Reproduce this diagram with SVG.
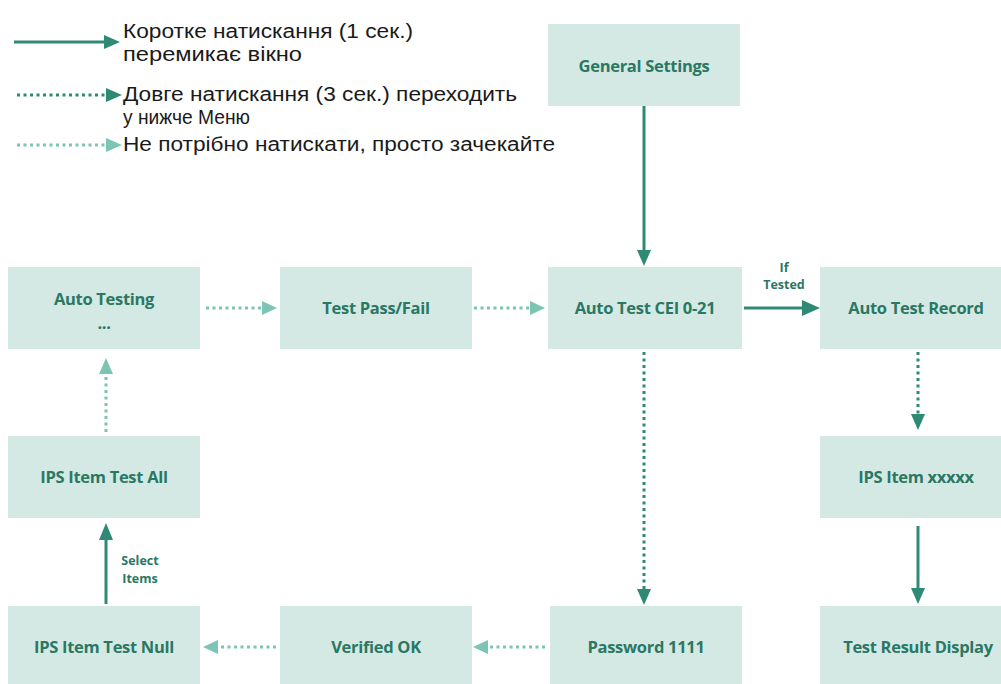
<svg xmlns="http://www.w3.org/2000/svg" width="1001" height="684" viewBox="0 0 1001 684">
<defs>
<style>
.box{fill:#d4e9e3}
.bt{font-family:"Open Sans","Noto Sans",sans-serif;font-weight:700;font-size:16.5px;fill:#2a7864;text-anchor:middle;letter-spacing:-0.3px}
.lbl{font-family:"Open Sans","Noto Sans",sans-serif;font-weight:700;font-size:12.5px;fill:#2a7864;text-anchor:middle}
.leg{font-family:"Liberation Sans",Arial,sans-serif;font-size:20px;fill:#1a1a1a}
.solid{stroke:#2e8a74;stroke-width:3;fill:none}
.dotd{stroke:#2e8a74;stroke-width:3;fill:none;stroke-dasharray:3 3.5}
.dotl{stroke:#7cc4b3;stroke-width:3;fill:none;stroke-dasharray:3 3.5}
.hd{fill:#2e8a74}
.hl{fill:#7cc4b3}
</style>
</defs>

<g id="legend">
<line class="solid" x1="14" y1="42" x2="106" y2="42"/>
<polygon class="hd" points="104,35 120,42 104,49"/>
<text class="leg" x="123" y="38" textLength="290" lengthAdjust="spacingAndGlyphs">Коротке натискання (1 сек.)</text>
<text class="leg" x="123" y="61" textLength="179" lengthAdjust="spacingAndGlyphs">перемикає вікно</text>
<line class="dotd" x1="17" y1="95" x2="106" y2="95"/>
<polygon class="hd" points="106,88 122,95 106,102"/>
<text class="leg" x="123" y="101" textLength="394" lengthAdjust="spacingAndGlyphs">Довге натискання (3 сек.) переходить</text>
<text class="leg" x="123" y="124" textLength="127" lengthAdjust="spacingAndGlyphs">у нижче Меню</text>
<line class="dotl" x1="17" y1="145" x2="106" y2="145"/>
<polygon class="hl" points="106,138 122,145 106,152"/>
<text class="leg" x="123" y="151" textLength="432" lengthAdjust="spacingAndGlyphs">Не потрібно натискати, просто зачекайте</text>
</g>

<g id="general-settings"><rect class="box" x="548" y="24" width="192" height="82"/><text class="bt" x="644" y="72">General Settings</text></g>
<g id="auto-testing"><rect class="box" x="8" y="267" width="192" height="82"/><text class="bt" x="104" y="305">Auto Testing</text><text class="bt" x="104" y="329">...</text></g>
<g id="test-pass-fail"><rect class="box" x="280" y="267" width="192" height="82"/><text class="bt" x="376" y="314">Test Pass/Fail</text></g>
<g id="auto-test-cei"><rect class="box" x="548" y="267" width="194" height="82"/><text class="bt" x="645" y="314">Auto Test CEI 0-21</text></g>
<g id="auto-test-record"><rect class="box" x="820" y="267" width="192" height="82"/><text class="bt" x="916" y="314">Auto Test Record</text></g>
<g id="ips-item-test-all"><rect class="box" x="8" y="436" width="192" height="82"/><text class="bt" x="104" y="483">IPS Item Test All</text></g>
<g id="ips-item-xxxxx"><rect class="box" x="820" y="436" width="192" height="82"/><text class="bt" x="916" y="483">IPS Item xxxxx</text></g>
<g id="ips-item-test-null"><rect class="box" x="8" y="606" width="192" height="82"/><text class="bt" x="104" y="653">IPS Item Test Null</text></g>
<g id="verified-ok"><rect class="box" x="280" y="606" width="192" height="82"/><text class="bt" x="376" y="653">Verified OK</text></g>
<g id="password"><rect class="box" x="550" y="606" width="192" height="82"/><text class="bt" x="646" y="653">Password 1111</text></g>
<g id="test-result-display"><rect class="box" x="820" y="606" width="192" height="82"/><text class="bt" x="918" y="653">Test Result Display</text></g>

<g id="connectors">
<line class="solid" x1="644" y1="106" x2="644" y2="252"/>
<polygon class="hd" points="637,250 651,250 644,266"/>
<line class="dotl" x1="206" y1="308" x2="262" y2="308"/>
<polygon class="hl" points="262,301 277,308 262,315"/>
<line class="dotl" x1="474" y1="308" x2="530" y2="308"/>
<polygon class="hl" points="530,301 545,308 530,315"/>
<line class="solid" x1="744" y1="308" x2="804" y2="308"/>
<polygon class="hd" points="802,300 820,308 802,316"/>
<text class="lbl" x="784" y="272">If</text>
<text class="lbl" x="784" y="289">Tested</text>
<line class="dotd" x1="644" y1="352" x2="644" y2="590"/>
<polygon class="hd" points="637,589 651,589 644,605"/>
<line class="dotd" x1="918" y1="352" x2="918" y2="414"/>
<polygon class="hd" points="911,414 925,414 918,430"/>
<line class="solid" x1="918" y1="526" x2="918" y2="590"/>
<polygon class="hd" points="911,588 925,588 918,604"/>
<line class="dotl" x1="545" y1="647" x2="488" y2="647"/>
<polygon class="hl" points="488,640 473,647 488,654"/>
<line class="dotl" x1="276" y1="647" x2="218" y2="647"/>
<polygon class="hl" points="218,640 203,647 218,654"/>
<line class="solid" x1="106" y1="604" x2="106" y2="538"/>
<polygon class="hd" points="99,540 113,540 106,523"/>
<text class="lbl" x="140" y="565">Select</text>
<text class="lbl" x="140" y="583">Items</text>
<line class="dotl" x1="106" y1="432" x2="106" y2="374"/>
<polygon class="hl" points="99,374 113,374 106,358"/>
</g>
</svg>
